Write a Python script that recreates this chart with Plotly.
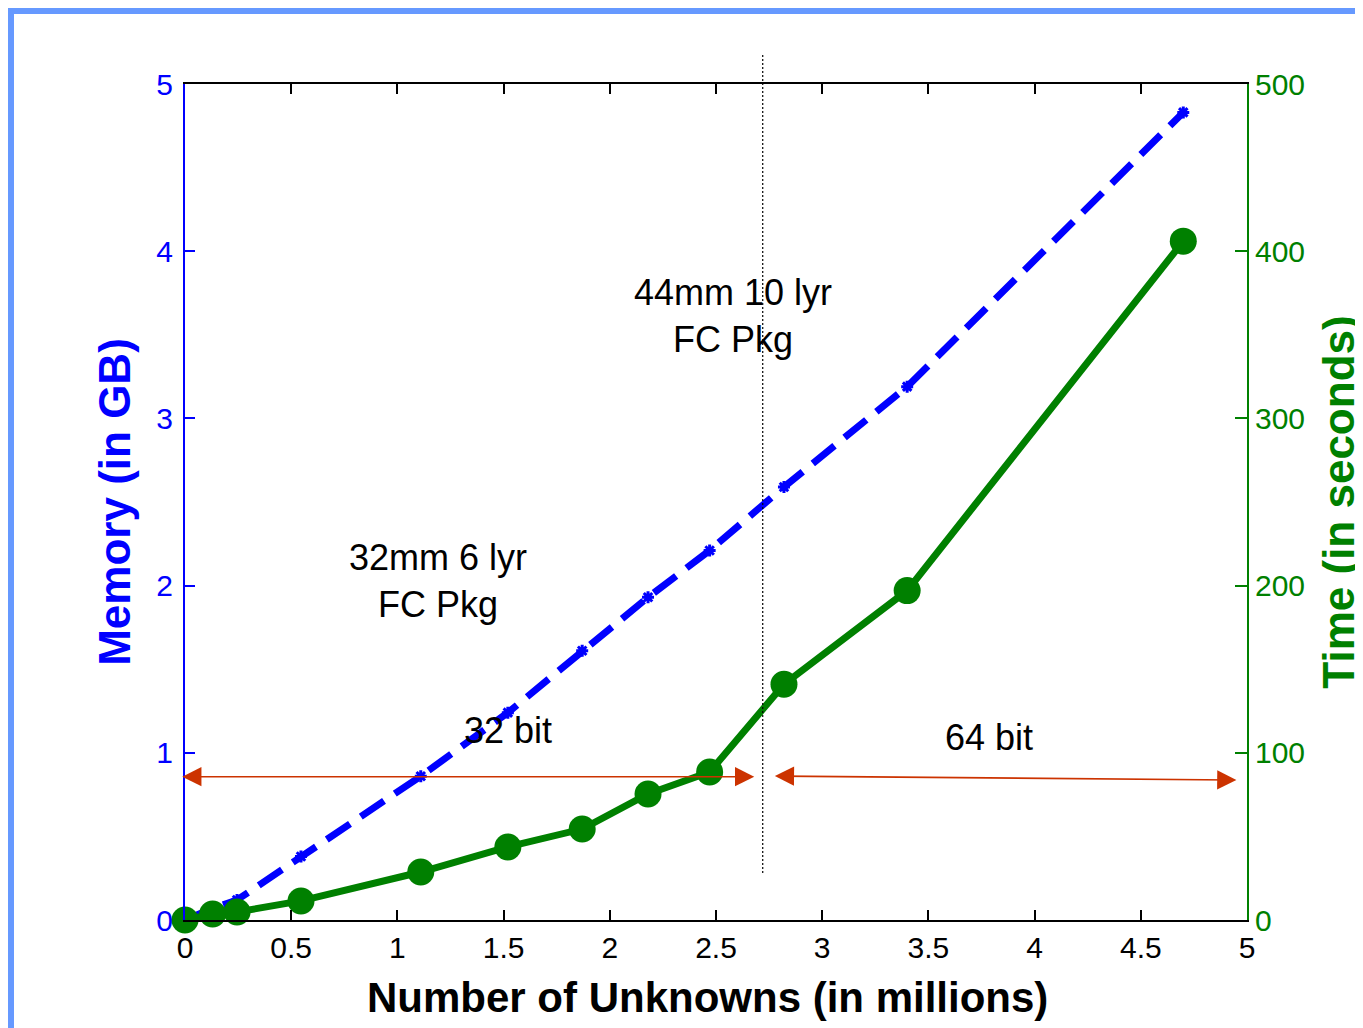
import plotly.graph_objects as go

# ---------------- data ----------------
unknowns_millions = [0.0, 0.13, 0.245, 0.546, 1.11, 1.52, 1.87, 2.18, 2.47, 2.82, 3.40, 4.70]
memory_gb = [0.0, 0.07, 0.12, 0.38, 0.86, 1.24, 1.61, 1.93, 2.21, 2.59, 3.19, 4.83]
time_seconds = [0.0, 3.6, 4.8, 11.4, 28.7, 43.7, 54.4, 75.4, 88.5, 141.0, 197.0, 406.0]

x_ticks = [0, 0.5, 1, 1.5, 2, 2.5, 3, 3.5, 4, 4.5, 5]
x_tick_labels = ["0", "0.5", "1", "1.5", "2", "2.5", "3", "3.5", "4", "4.5", "5"]
mem_ticks = [0, 1, 2, 3, 4, 5]
time_ticks = [0, 100, 200, 300, 400, 500]

boundary_x = 2.72  # 32 bit / 64 bit boundary (millions of unknowns)

# ---------------- layout constants ----------------
OFF = 8                       # page body margin in the browser
W, H = 1363 - OFF, 1028 - OFF
ML, MT = 185 - OFF, 84 - OFF
PW, PH = 1247 - 185, 920 - 84
MR, MB = W - ML - PW, H - MT - PH

BLUE = "#0000FF"
GREEN = "#008000"
RED = "#CC3300"
BORDER = "#6699FF"
TXT_FONT = "Liberation Sans, Arial, sans-serif"


def px_x(px):
    """screen pixel -> paper x"""
    return (px - OFF - ML) / PW


def px_y(py):
    """screen pixel -> paper y"""
    return (MT + PH - (py - OFF)) / PH


fig = go.Figure()

fig.add_trace(go.Scatter(
    x=unknowns_millions, y=memory_gb, mode="lines+markers",
    line=dict(color=BLUE, width=7, dash="28px,13px"),
    marker=dict(symbol="asterisk-open", size=10, color=BLUE,
                line=dict(color=BLUE, width=3)),
    yaxis="y", showlegend=False, cliponaxis=False,
))

fig.add_trace(go.Scatter(
    x=unknowns_millions, y=time_seconds, mode="lines+markers",
    line=dict(color=GREEN, width=7),
    marker=dict(symbol="circle", size=27, color=GREEN),
    yaxis="y2", showlegend=False, cliponaxis=False,
))

tick_font = dict(family=TXT_FONT, size=30)

fig.update_layout(
    width=W, height=H, autosize=False,
    margin=dict(l=ML, r=MR, t=MT, b=MB, autoexpand=False),
    paper_bgcolor="white", plot_bgcolor="white",
    xaxis=dict(
        range=[0, 5], tickvals=x_ticks, ticktext=x_tick_labels,
        ticks="inside", ticklen=10, tickwidth=2, tickcolor="black",
        showline=True, linecolor="black", linewidth=2, mirror="ticks",
        showgrid=False, zeroline=False, automargin=False,
        tickfont=dict(color="black", **tick_font),
    ),
    yaxis=dict(
        range=[0, 5], tickvals=mem_ticks,
        ticks="inside", ticklen=10, tickwidth=2, tickcolor=BLUE,
        showline=True, linecolor=BLUE, linewidth=2, mirror=False,
        showgrid=False, zeroline=False, ticklabelstandoff=4, automargin=False,
        tickfont=dict(color=BLUE, **tick_font),
        title=dict(text="<b>Memory (in GB)</b>",
                   font=dict(family=TXT_FONT, size=44, color=BLUE),
                   standoff=12),
    ),
    yaxis2=dict(
        range=[0, 500], tickvals=time_ticks, overlaying="y", side="right",
        ticks="inside", ticklen=12, tickwidth=2, tickcolor=GREEN,
        showline=True, linecolor=GREEN, linewidth=2,
        showgrid=False, zeroline=False, automargin=False,
        tickfont=dict(color=GREEN, **tick_font),
        title=dict(text="<b>Time (in seconds)</b>",
                   font=dict(family=TXT_FONT, size=44, color=GREEN),
                   standoff=20),
    ),
)

# x-axis title (placed slightly left of the plot centre, as in the original)
fig.add_annotation(x=px_x(707), y=px_y(997), xref="paper", yref="paper",
                   text="<b>Number of Unknowns (in millions)</b>", showarrow=False,
                   xanchor="center", yanchor="middle",
                   font=dict(family=TXT_FONT, size=42, color="black"))

# vertical dotted boundary line (extends above the axes box)
fig.add_shape(type="line", xref="x", yref="paper",
              x0=boundary_x, x1=boundary_x, y0=px_y(873), y1=px_y(55),
              line=dict(color="black", width=1.2, dash="2px,2px"))

# blue slide border (top and left edges of the figure)
fig.add_shape(type="rect", xref="paper", yref="paper",
              x0=-ML / PW, x1=(W - ML) / PW, y0=(MT + PH - 6) / PH, y1=(MT + PH) / PH,
              line=dict(width=0), fillcolor=BORDER)
fig.add_shape(type="rect", xref="paper", yref="paper",
              x0=-ML / PW, x1=(6 - ML) / PW, y0=-MB / PH, y1=(MT + PH) / PH,
              line=dict(width=0), fillcolor=BORDER)

# double-headed arrows
arrows = [
    (-0.02, 0.857, 2.68, 0.857),
    (2.77, 0.861, 4.95, 0.837),
]
for x0, y0, x1, y1 in arrows:
    fig.add_annotation(x=x1, y=y1, ax=x0, ay=y0, xref="x", yref="y",
                       axref="x", ayref="y", text="", showarrow=True,
                       arrowhead=2, startarrowhead=2, arrowside="end+start",
                       arrowsize=2.4, startarrowsize=2.4, arrowwidth=1.6,
                       arrowcolor=RED, standoff=0, startstandoff=0)

# text annotations
texts = [
    ("32mm 6 lyr<br>FC Pkg", 1.19, 2.03),
    ("44mm 10 lyr<br>FC Pkg", 2.58, 3.61),
    ("32 bit", 1.52, 1.136),
    ("64 bit", 3.785, 1.09),
]
for t, x, y in texts:
    fig.add_annotation(x=x, y=y, xref="x", yref="y", text=t, showarrow=False,
                       font=dict(family=TXT_FONT, size=36, color="black"),
                       align="center")

fig.write_html("out.html")
